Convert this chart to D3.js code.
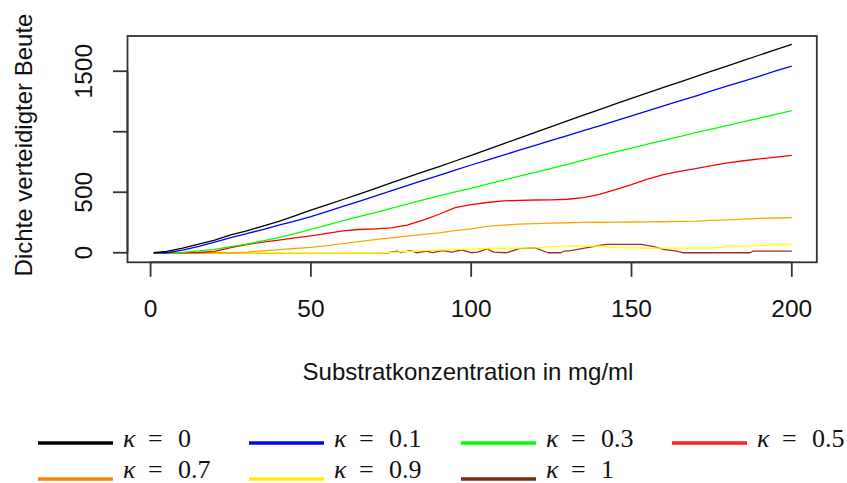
<!DOCTYPE html>
<html>
<head>
<meta charset="utf-8">
<script src="https://cdn.jsdelivr.net/npm/d3@7"></script>
<style>
  html, body { margin: 0; padding: 0; background: #fff; }
  svg { display: block; }
</style>
</head>
<body>
<svg id="chart" width="847" height="483"></svg>
<script>
// ---------- data ----------
const xs = [1,5,10,15,20,25,30,35,40,45,50,55,60,65,70,75,80,85,90,95,100,105,110,115,120,125,130,135,140,145,150,155,160,165,170,175,180,185,190,195,200];
const kappa0  = [0,12,38,72,105,148,180,220,260,305,352,396,440,485,530,578,622,668,712,758,805,852,900,948,995,1042,1090,1137,1183,1230,1276,1321,1366,1410,1455,1500,1545,1590,1634,1678,1722];
const kappa01 = [0,0,22,52,88,125,158,192,228,262,298,340,383,425,467,512,555,598,640,682,725,766,806,847,887,928,968,1009,1049,1090,1130,1172,1213,1254,1295,1337,1378,1419,1460,1502,1543];
const kappa03 = [0,0,3,15,28,50,72,98,124,158,193,228,265,298,332,367,402,437,470,502,532,566,600,633,665,697,730,765,800,833,865,897,928,960,992,1022,1053,1083,1113,1144,1174];
const kappa05 = [0,0,0,2,12,42,68,88,105,122,140,160,180,192,198,205,228,270,318,372,398,415,428,433,436,437,442,455,482,522,562,608,645,672,695,720,742,760,775,790,805];
const kappa07 = [0,0,0,0,0,0,5,15,25,35,45,58,75,92,108,123,138,152,165,182,198,218,228,236,240,244,248,251,252,253,254,255,256,259,262,268,272,278,284,287,290];
const kappa09 = [0,0,0,0,0,0,0,0,0,0,0,0,0,0,0,3,10,17,22,27,30,35,37,38,40,50,55,55,55,42,40,38,38,38,38,38,55,56,58,68,69];
const kappa1X = [1,74,77,78,81,83,86,88,91,94,97,100,102,105,107,111,115,120,124,128,129,131,135,138,142,153,157,160,164,166,187,188,200];
const kappa1Y = [0,0,14,0,18,0,14,0,18,5,24,0,5,32,5,0,34,40,0,0,14,17,36,50,69,69,50,28,14,0,0,14,14];

const seriesNames  = ["\u03BA = 0","\u03BA = 0.1","\u03BA = 0.3","\u03BA = 0.5","\u03BA = 0.7","\u03BA = 0.9","\u03BA = 1"];
const seriesValues = ["0","0.1","0.3","0.5","0.7","0.9","1"];
const lineColors   = ["#000000","#0000ff","#00ff00","#ff0000","#ffa500","#ffff00","#a52a2a"];
const legendColors = ["#000000","#0000ff","#00ff00","#ff2020","#ff8000","#ffee00","#7a2a10"];
const xTicks = [0,50,100,150,200];
const yTicks = [0,500,1000,1500];
const xTitle = "Substratkonzentration in mg/ml";
const yTitle = "Dichte verteidigter Beute";

// ---------- build series ----------
const series = [kappa0,kappa01,kappa03,kappa05,kappa07,kappa09].map((vals,i)=>({
  name: seriesNames[i], color: lineColors[i],
  points: xs.map((x,j)=>({x, y: vals[j]}))
}));
series.push({name: seriesNames[6], color: lineColors[6],
  points: kappa1X.map((x,j)=>({x, y: kappa1Y[j]}))});

// ---------- layout ----------
const svg = d3.select("#chart");
const box = {left: 127.5, right: 816.8, top: 36, bottom: 262.3};
const x = d3.scaleLinear().domain([-7.2, 207.8]).range([box.left, box.right]);
const y = d3.scaleLinear().domain([-79, 1791]).range([box.bottom, box.top]);

const font = "'Liberation Sans', Arial, Helvetica, sans-serif";
const axisColor = "#333";

// lines (drawn last series first so κ=0 ends on top)
const line = d3.line().x(d=>x(d.x)).y(d=>y(d.y));
svg.append("g").selectAll("path")
  .data(series.slice().reverse())
  .join("path")
  .attr("d", d=>line(d.points))
  .attr("fill","none")
  .attr("stroke", d=>d.color)
  .attr("stroke-width",1.3)
  .attr("stroke-linejoin","round");

// plot box
svg.append("rect")
  .attr("x", box.left).attr("y", box.top)
  .attr("width", box.right-box.left).attr("height", box.bottom-box.top)
  .attr("fill","none").attr("stroke",axisColor).attr("stroke-width",1.8);

// x axis
const xAxis = svg.append("g");
xAxis.append("line")
  .attr("x1", x(xTicks[0])).attr("x2", x(xTicks[xTicks.length-1]))
  .attr("y1", box.bottom).attr("y2", box.bottom)
  .attr("stroke",axisColor).attr("stroke-width",1.8);
xAxis.selectAll("line.tick").data(xTicks).join("line").attr("class","tick")
  .attr("x1",d=>x(d)).attr("x2",d=>x(d))
  .attr("y1", box.bottom).attr("y2", box.bottom+14.5)
  .attr("stroke",axisColor).attr("stroke-width",1.8);
xAxis.selectAll("text").data(xTicks).join("text")
  .attr("x",d=>x(d)).attr("y",317)
  .attr("text-anchor","middle")
  .style("font-family",font).style("font-size","24.5px").attr("fill","#111")
  .text(d=>d);

// y axis
const yAxis = svg.append("g");
yAxis.append("line")
  .attr("x1", box.left).attr("x2", box.left)
  .attr("y1", y(yTicks[0])).attr("y2", y(yTicks[yTicks.length-1]))
  .attr("stroke",axisColor).attr("stroke-width",1.8);
yAxis.selectAll("line.tick").data(yTicks).join("line").attr("class","tick")
  .attr("x1", box.left-14.5).attr("x2", box.left)
  .attr("y1",d=>y(d)).attr("y2",d=>y(d))
  .attr("stroke",axisColor).attr("stroke-width",1.8);
yAxis.selectAll("text").data(yTicks).join("text")
  .attr("transform",d=>`translate(92,${y(d)}) rotate(-90)`)
  .attr("text-anchor","middle")
  .style("font-family",font).style("font-size","24.5px").attr("fill","#111")
  .text(d=> d===1000 ? "" : d);

// titles
svg.append("text")
  .attr("x", 468).attr("y", 380)
  .attr("text-anchor","middle")
  .style("font-family",font).style("font-size","24px").attr("fill","#111")
  .text(xTitle);
svg.append("text")
  .attr("transform","translate(32,145) rotate(-90)")
  .attr("text-anchor","middle")
  .style("font-family",font).style("font-size","24px").attr("fill","#111")
  .text(yTitle);

// legend
const legendCols = [38, 249, 461, 672];
const legendRows = [443, 479];
const legendBase = [447, 478];
const serif = "'Liberation Serif', 'DejaVu Serif', 'Times New Roman', serif";
const lg = svg.append("g");
series.forEach((s,i)=>{
  const cx = legendCols[i % 4];
  const r = Math.floor(i / 4);
  const cy = legendRows[r];
  lg.append("line")
    .attr("x1",cx).attr("x2",cx+75).attr("y1",cy).attr("y2",cy)
    .attr("stroke",legendColors[i]).attr("stroke-width",3.5);
  const t = lg.append("text")
    .attr("y", legendBase[r])
    .style("font-family",serif).style("font-size","26px").attr("fill","#111");
  t.append("tspan").attr("x",cx+85).style("font-style","italic").text("\u03BA");
  t.append("tspan").attr("x",cx+110).text("=");
  t.append("tspan").attr("x",cx+140).text(seriesValues[i]);
});
</script>
</body>
</html>
